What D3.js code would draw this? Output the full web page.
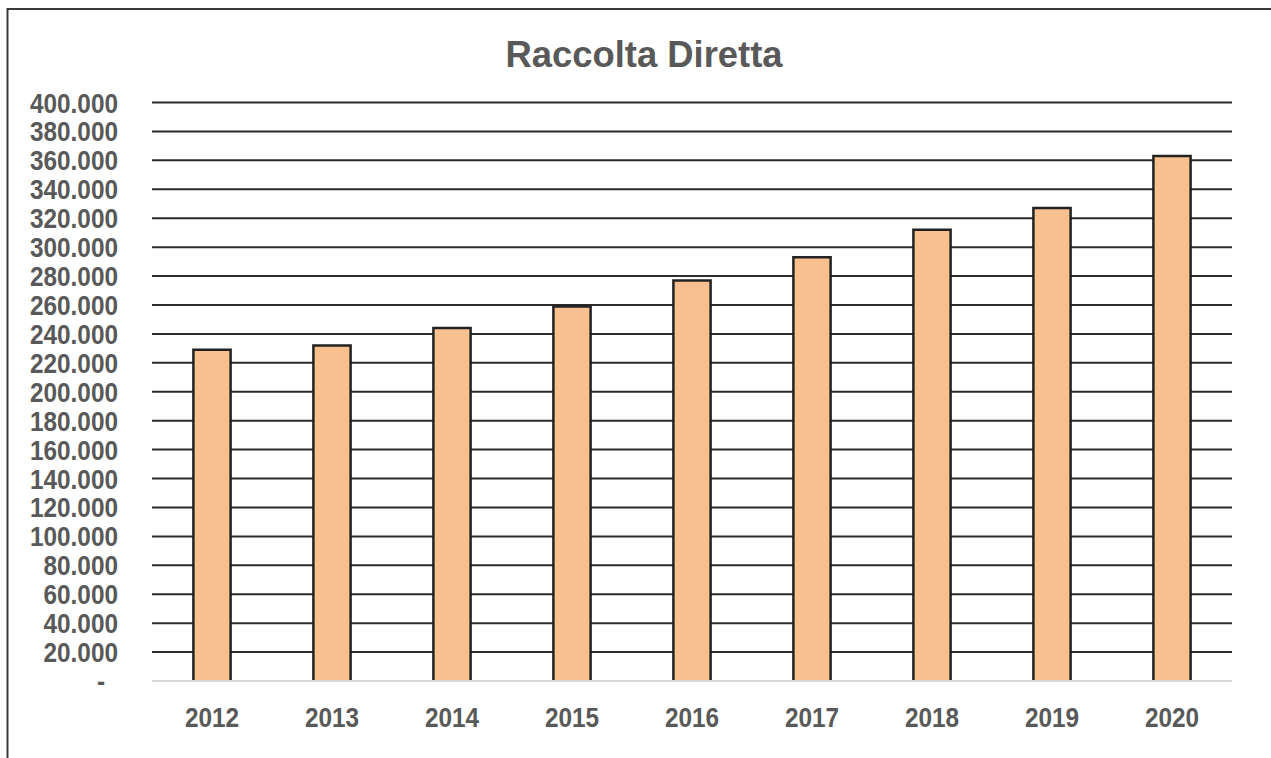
<!DOCTYPE html>
<html>
<head>
<meta charset="utf-8">
<script src="https://cdn.jsdelivr.net/npm/d3@7"></script>
<style>
  html, body { margin: 0; padding: 0; background: #fff; }
  svg { display: block; }
</style>
</head>
<body>
<svg id="chart" width="1271" height="758"></svg>
<script>
// Raccolta diretta per anno (valori in migliaia)
const years = ["2012", "2013", "2014", "2015", "2016", "2017", "2018", "2019", "2020"];
const raccolta = [229000, 232000, 244000, 259000, 277000, 293000, 312000, 327000, 363000];
const yTicks = [0, 20000, 40000, 60000, 80000, 100000, 120000, 140000, 160000, 180000, 200000,
                220000, 240000, 260000, 280000, 300000, 320000, 340000, 360000, 380000, 400000];
const title = "Raccolta Diretta";

const svg = d3.select("#chart");
const textColor = "#595959";
const labelFont = "'Liberation Sans', Arial, sans-serif";
const narrow = 0.87; // condensed look for axis labels

// Frame around the chart area
svg.append("path")
  .attr("d", "M7.5,760 L7.5,9 L1275,9")
  .attr("fill", "none")
  .attr("stroke", "#3a3a3a")
  .attr("stroke-width", 2);

const x = d3.scaleBand().domain(years).range([152, 1232]).padding(0);
const y = d3.scaleLinear().domain([0, 400000]).range([681, 102.5]);

const it = d3.formatLocale({ decimal: ",", thousands: ".", grouping: [3], currency: ["", "€"] });
const fmt = it.format(",.0f");

// Horizontal gridlines
svg.append("g")
  .selectAll("line")
  .data(yTicks.filter(d => d > 0))
  .join("line")
  .attr("x1", 152).attr("x2", 1232)
  .attr("y1", d => y(d)).attr("y2", d => y(d))
  .attr("stroke", "#2b2b2b")
  .attr("stroke-width", 2);

// Bars
const barW = x.bandwidth() * 0.31;
const bars = svg.append("g");
bars.selectAll("rect")
  .data(years)
  .join("rect")
  .attr("x", (d) => x(d) + x.bandwidth() / 2 - barW / 2)
  .attr("y", (d, i) => y(raccolta[i]))
  .attr("width", barW)
  .attr("height", (d, i) => y(0) - y(raccolta[i]))
  .attr("fill", "#f9c08f");
bars.selectAll("path")
  .data(years)
  .join("path")
  .attr("d", (d, i) => {
    const x0 = x(d) + x.bandwidth() / 2 - barW / 2, x1 = x0 + barW;
    const yt = y(raccolta[i]), yb = y(0);
    return `M${x0},${yb} L${x0},${yt} L${x1},${yt} L${x1},${yb}`;
  })
  .attr("fill", "none")
  .attr("stroke", "#222")
  .attr("stroke-width", 2.5);

// Baseline
svg.append("line")
  .attr("x1", 152).attr("x2", 1232)
  .attr("y1", y(0)).attr("y2", y(0))
  .attr("stroke", "#d9d9d9")
  .attr("stroke-width", 2);

// Y axis labels
svg.append("g")
  .selectAll("text")
  .data(yTicks)
  .join("text")
  .attr("transform", d => `translate(${d === 0 ? 105 : 118},${y(d) + 10}) scale(${narrow},1)`)
  .attr("text-anchor", "end")
  .attr("font-family", labelFont)
  .attr("font-weight", "bold")
  .attr("font-size", 28)
  .attr("fill", textColor)
  .text(d => d === 0 ? "-" : fmt(d));

// X axis labels
svg.append("g")
  .selectAll("text")
  .data(years)
  .join("text")
  .attr("transform", d => `translate(${x(d) + x.bandwidth() / 2},727) scale(${narrow},1)`)
  .attr("text-anchor", "middle")
  .attr("font-family", labelFont)
  .attr("font-weight", "bold")
  .attr("font-size", 28)
  .attr("fill", textColor)
  .text(d => d);

// Title
svg.append("text")
  .attr("x", 644)
  .attr("y", 67)
  .attr("text-anchor", "middle")
  .attr("font-family", "'Liberation Sans', Arial, sans-serif")
  .attr("font-weight", "bold")
  .attr("font-size", 36)
  .attr("fill", textColor)
  .attr("textLength", 277)
  .attr("lengthAdjust", "spacingAndGlyphs")
  .text(title);
</script>
</body>
</html>
